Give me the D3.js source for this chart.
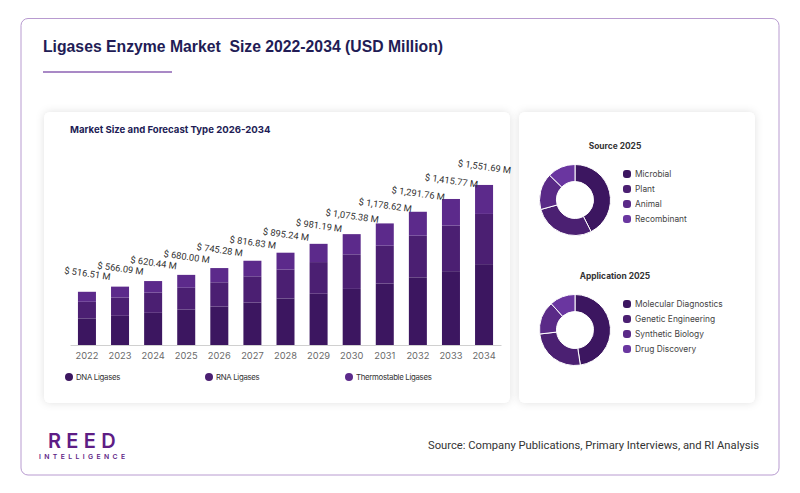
<!DOCTYPE html>
<html>
<head>
<meta charset="utf-8">
<script src="https://cdn.jsdelivr.net/npm/d3@7"></script>
<style>
  html, body { margin: 0; padding: 0; background: #fff; }
  svg { display: block; }
</style>
</head>
<body>
<svg id="chart" width="800" height="493"></svg>
<script>
// bar chart data (USD million)
var years = ['2022', '2023', '2024', '2025', '2026', '2027', '2028', '2029', '2030', '2031', '2032', '2033', '2034'];
var dnaLigases = [258, 283, 312, 343, 373, 412, 451, 497, 544, 596, 656, 716, 784];
var rnaLigases = [161, 177, 196, 212, 235, 254, 280, 307, 335, 367, 404, 442, 487];
var thermoLigases = [97, 106, 112, 125, 138, 151, 164, 177, 196, 216, 232, 258, 281];
var totalLabels = ['516.51', '566.09', '620.44', '680.00', '745.28', '816.83', '895.24', '981.19', '1,075.38', '1,178.62', '1,291.76', '1,415.77', '1,551.69'];
var seriesNames = ['DNA Ligases', 'RNA Ligases', 'Thermostable Ligases'];

// donuts (share %, 2025)
var sourceNames = ['Microbial', 'Plant', 'Animal', 'Recombinant'];
var sourceShares = [42.5, 28.2, 16.6, 12.7];
var appNames = ['Molecular Diagnostics', 'Genetic Engineering', 'Synthetic Biology', 'Drug Discovery'];
var appShares = [47.6, 25.6, 15.1, 11.7];

var barColors = ['#3c1660', '#4b1f72', '#5c2a8b'];
var donutColors = ['#3c1660', '#4b2072', '#5a2a87', '#6a36a0'];

var svg = d3.select('#chart');

// shadow for the cards
var defs = svg.append('defs');
var shadow = defs.append('filter').attr('id', 'shadow')
	.attr('x', '-10%').attr('y', '-10%').attr('width', '120%').attr('height', '120%');
shadow.append('feDropShadow')
	.attr('dx', 0).attr('dy', 0).attr('stdDeviation', 4)
	.attr('flood-color', '#000').attr('flood-opacity', 0.12);

// outer frame
svg.append('rect')
	.attr('x', 21).attr('y', 18.5).attr('width', 758).attr('height', 456.5)
	.attr('rx', 7).attr('fill', '#fff')
	.attr('stroke', '#b89bd0').attr('stroke-width', 1);

svg.append('text')
	.attr('x', 43).attr('y', 51.7)
	.style('white-space', 'pre')
	.attr('font-family', 'Liberation Sans, Arial, sans-serif')
	.attr('font-weight', 'bold').attr('font-size', 17.3)
	.attr('fill', '#221c55')
	.attr('textLength', 400).attr('lengthAdjust', 'spacingAndGlyphs')
	.text('Ligases Enzyme Market  Size 2022-2034 (USD Million)');

svg.append('line')
	.attr('x1', 43).attr('x2', 172).attr('y1', 72).attr('y2', 72)
	.attr('stroke', '#8d62b3').attr('stroke-width', 1.5);

// cards
svg.append('rect')
	.attr('x', 44).attr('y', 112).attr('width', 466).attr('height', 291)
	.attr('rx', 6).attr('fill', '#fff').attr('filter', 'url(#shadow)');
svg.append('rect')
	.attr('x', 519).attr('y', 112).attr('width', 236).attr('height', 291)
	.attr('rx', 6).attr('fill', '#fff').attr('filter', 'url(#shadow)');

// ---------- stacked bars ----------
var rows = years.map(function(y, i) {
	return { year: y, dna: dnaLigases[i], rna: rnaLigases[i], thermo: thermoLigases[i], label: totalLabels[i] };
});
var keys = ['dna', 'rna', 'thermo'];

var x = d3.scaleBand().domain(years).range([70, 501])
	.paddingInner(0.456).paddingOuter(0.24);
var y = d3.scaleLinear().domain([0, 1600]).range([345, 180]);

var bars = svg.append('g');

bars.append('text')
	.attr('x', 70).attr('y', 133)
	.attr('font-family', 'Inter, Roboto, sans-serif')
	.attr('font-weight', 'bold').attr('font-size', 9.6)
	.attr('fill', '#221c55')
	.text('Market Size and Forecast Type 2026-2034');

var stacked = d3.stack().keys(keys)(rows);

bars.selectAll('g.layer')
	.data(stacked)
	.enter().append('g')
	.attr('class', 'layer')
	.attr('fill', function(d, i) { return barColors[i]; })
	.selectAll('rect')
	.data(function(d) { return d; })
	.enter().append('rect')
	.attr('x', function(d) { return x(d.data.year); })
	.attr('width', x.bandwidth())
	.attr('y', function(d) { return y(d[1]); })
	.attr('height', function(d) { return y(d[0]) - y(d[1]); });

var axis = bars.append('g')
	.attr('transform', 'translate(0,345)')
	.call(d3.axisBottom(x).tickSize(0).tickSizeOuter(0).tickPadding(7));
axis.select('.domain').attr('stroke', '#d0d0d0');
axis.selectAll('text')
	.attr('font-family', 'Inter, Roboto, sans-serif')
	.attr('font-size', 9.3).attr('fill', '#6a6a6a');

// value labels, slightly tilted
bars.selectAll('text.value')
	.data(rows)
	.enter().append('text')
	.attr('class', 'value')
	.attr('text-anchor', 'middle')
	.attr('font-family', 'Roboto, Inter, sans-serif')
	.attr('font-size', 9.3).attr('fill', '#333')
	.attr('transform', function(d) {
		var cx = x(d.year) + x.bandwidth() / 2,
			cy = y(d.dna + d.rna + d.thermo) - 15;
		return 'translate(' + cx + ',' + cy + ') rotate(8)';
	})
	.text(function(d) { return '$ ' + d.label + ' M'; });

var legend = bars.selectAll('g.legend')
	.data(seriesNames)
	.enter().append('g')
	.attr('class', 'legend')
	.attr('transform', function(d, i) { return 'translate(' + (69 + i * 140) + ',377)'; });
legend.append('circle').attr('r', 4)
	.attr('fill', function(d, i) { return barColors[i]; });
legend.append('text')
	.attr('x', 7).attr('dy', '0.35em')
	.attr('font-family', 'Inter, Roboto, sans-serif')
	.attr('font-size', 7.8).attr('letter-spacing', -0.3).attr('fill', '#333')
	.text(function(d) { return d; });

// ---------- donuts ----------
function drawDonut(title, names, shares, cy, titleY) {
	var g = svg.append('g');
	g.append('text')
		.attr('x', 615).attr('y', titleY)
		.attr('text-anchor', 'middle')
		.attr('font-family', 'Inter, Roboto, sans-serif')
		.attr('font-weight', 'bold').attr('font-size', 8.4)
		.attr('fill', '#333')
		.text(title);

	var pie = d3.pie().sort(null);
	var arc = d3.arc().innerRadius(18.5).outerRadius(35.5);
	g.append('g')
		.attr('transform', 'translate(575,' + cy + ')')
		.selectAll('path')
		.data(pie(shares))
		.enter().append('path')
		.attr('d', arc)
		.attr('fill', function(d, i) { return donutColors[i]; })
		.attr('stroke', '#fff').attr('stroke-width', 1);

	var items = g.selectAll('g.item')
		.data(names)
		.enter().append('g')
		.attr('class', 'item')
		.attr('transform', function(d, i) { return 'translate(627,' + (cy - 26 + i * 15) + ')'; });
	items.append('rect')
		.attr('x', -4).attr('y', -4).attr('width', 8).attr('height', 8).attr('rx', 3)
		.attr('fill', function(d, i) { return donutColors[i]; });
	items.append('text')
		.attr('x', 8).attr('dy', '0.35em')
		.attr('font-family', 'Inter, Roboto, sans-serif')
		.attr('font-size', 8.4).attr('fill', '#444')
		.text(function(d) { return d; });
}

drawDonut('Source 2025', sourceNames, sourceShares, 200, 149);
drawDonut('Application 2025', appNames, appShares, 330, 279);

// ---------- footer ----------
svg.append('text')
	.attr('x', 48).attr('y', 447.5)
	.attr('font-family', 'Inter, Roboto, sans-serif')
	.attr('font-weight', 600).attr('font-size', 20)
	.attr('letter-spacing', 5.3).attr('fill', '#5e1d85')
	.text('REED');
svg.append('text')
	.attr('x', 39).attr('y', 459)
	.attr('font-family', 'Inter, Roboto, sans-serif')
	.attr('font-weight', 600).attr('font-size', 6.8)
	.attr('letter-spacing', 3.4).attr('fill', '#5e1d85')
	.text('INTELLIGENCE');

svg.append('text')
	.attr('x', 759).attr('y', 448.5)
	.attr('text-anchor', 'end')
	.attr('font-family', 'Roboto, sans-serif')
	.attr('font-size', 10.5).attr('fill', '#333')
	.attr('textLength', 331).attr('lengthAdjust', 'spacingAndGlyphs')
	.text('Source: Company Publications, Primary Interviews, and RI Analysis');
</script>
</body>
</html>
